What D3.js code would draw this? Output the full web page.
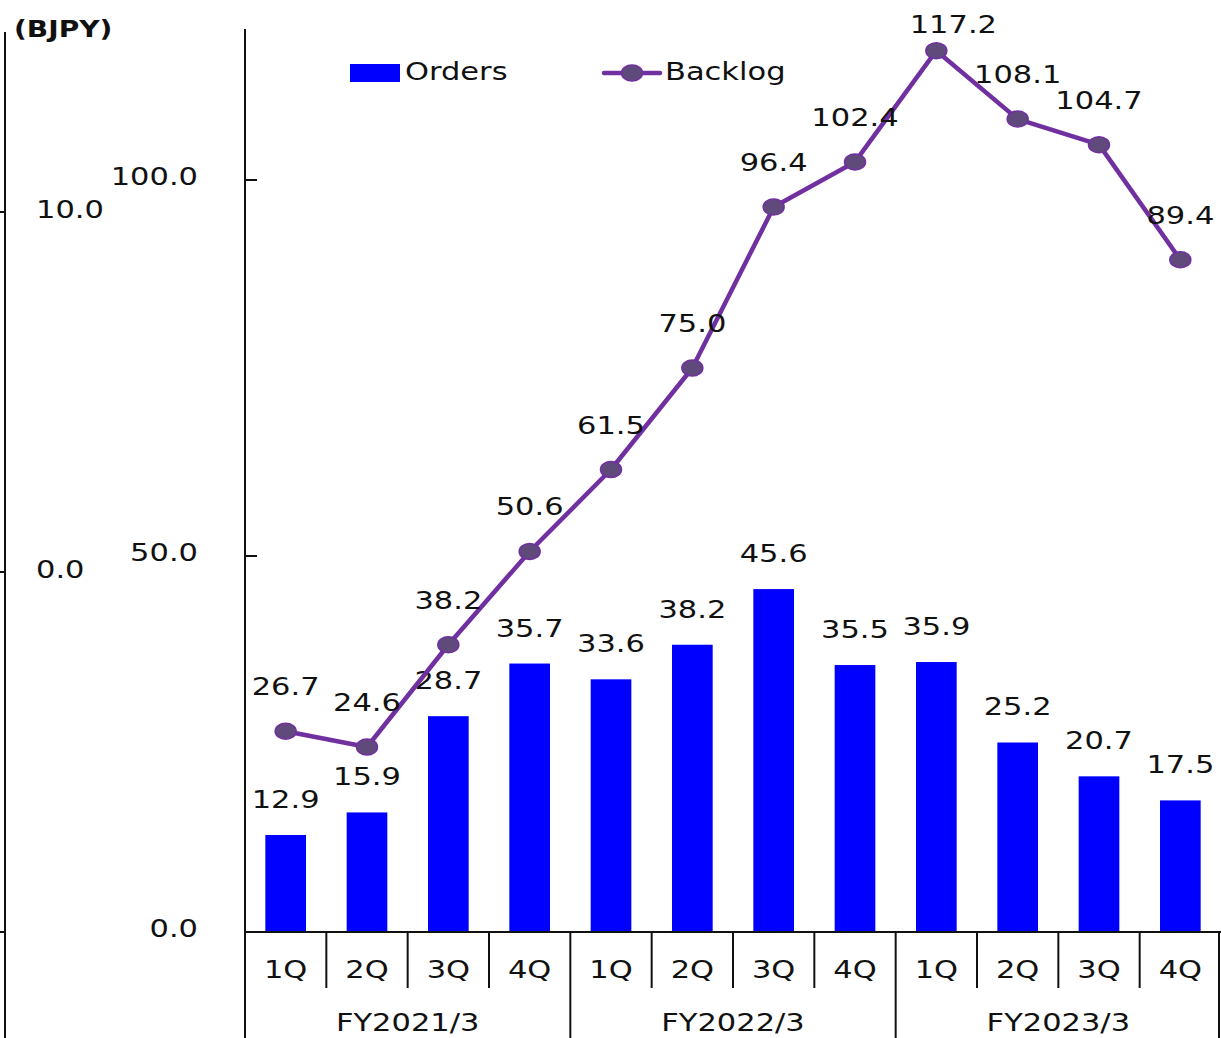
<!DOCTYPE html>
<html><head><meta charset="utf-8">
<script src="https://cdn.jsdelivr.net/npm/d3@7"></script>
<style>html,body{margin:0;padding:0;background:#fff;overflow:hidden}</style>
</head><body>
<script>
const quarters = ["1Q","2Q","3Q","4Q","1Q","2Q","3Q","4Q","1Q","2Q","3Q","4Q"];
const fiscalYears = ["FY2021/3","FY2022/3","FY2023/3"];
const orders = [12.9,15.9,28.7,35.7,33.6,38.2,45.6,35.5,35.9,25.2,20.7,17.5];
const backlog = [26.7,24.6,38.2,50.6,61.5,75.0,96.4,102.4,117.2,108.1,104.7,89.4];
const mainTicks = [0,50,100];
const leftTicks = [-10,0,10];
const leftTickLabels = ["","0.0","10.0"];

const W=1221,H=1038, SX=1.22, FS=25, FONT="DejaVu Sans, Verdana, sans-serif";
const svg=d3.select("body").append("svg").attr("width",W).attr("height",H);

const x=d3.scaleBand().domain(d3.range(12)).range([245,1221]).paddingInner(0).paddingOuter(0);
const y=d3.scaleLinear().domain([0,100]).range([932,180]);
const yL=d3.scaleLinear().domain([-10,10]).range([932,212]);

function txt(xp,yp,s,anchor,opts={}){
  return svg.append("text").attr("transform",`translate(${xp},${yp}) scale(${SX},1)`)
    .attr("text-anchor",anchor||"middle").attr("font-family",FONT)
    .attr("font-size",opts.size||FS).attr("font-weight",opts.weight||"normal")
    .attr("fill","#111").text(s);
}

// left secondary axis
svg.append("line").attr("x1",5).attr("x2",5).attr("y1",32).attr("y2",H).attr("stroke","#111").attr("stroke-width",2);
leftTicks.forEach((t,i)=>{
  svg.append("line").attr("x1",0).attr("x2",5).attr("y1",yL(t)).attr("y2",yL(t)).attr("stroke","#111").attr("stroke-width",2);
  if(leftTickLabels[i]) txt(36,yL(t)+6,leftTickLabels[i],"start");
});

// main axis
svg.append("line").attr("x1",245).attr("x2",245).attr("y1",29).attr("y2",H).attr("stroke","#111").attr("stroke-width",2);
mainTicks.forEach(t=>{
  svg.append("line").attr("x1",245).attr("x2",257).attr("y1",y(t)).attr("y2",y(t)).attr("stroke","#111").attr("stroke-width",2);
  txt(198,y(t)+5,d3.format(".1f")(t),"end");
});

txt(14,37,"(BJPY)","start",{size:23,weight:"bold"});

// bars
const bw=x.bandwidth()*0.5;
svg.selectAll("rect.bar").data(orders).join("rect").attr("class","bar")
  .attr("x",(d,i)=>x(i)+x.bandwidth()/2-bw/2).attr("width",bw)
  .attr("y",d=>y(d)).attr("height",d=>y(0)-y(d)).attr("fill","#0000FF");
orders.forEach((d,i)=>txt(x(i)+x.bandwidth()/2,y(d)-27,d.toFixed(1),"middle"));

// baseline and category axis
svg.append("line").attr("x1",245).attr("x2",1221).attr("y1",932).attr("y2",932).attr("stroke","#111").attr("stroke-width",2);
for(let i=0;i<=12;i++){
  const xp = i===12?1219:x(i);
  const long = i%4===0;
  svg.append("line").attr("x1",xp).attr("x2",xp).attr("y1",932).attr("y2",long?H:988).attr("stroke","#111").attr("stroke-width",2);
}
quarters.forEach((q,i)=>txt(x(i)+x.bandwidth()/2,978,q,"middle"));
fiscalYears.forEach((f,k)=>txt(x(k*4)+x.bandwidth()*2,1031,f,"middle"));

// backlog line
const line=d3.line().x((d,i)=>x(i)+x.bandwidth()/2).y(d=>y(d));
svg.append("path").datum(backlog).attr("d",line).attr("fill","none").attr("stroke","#7030A0").attr("stroke-width",4.5).attr("stroke-linejoin","round");
svg.selectAll("ellipse.pt").data(backlog).join("ellipse").attr("class","pt")
  .attr("cx",(d,i)=>x(i)+x.bandwidth()/2).attr("cy",d=>y(d)).attr("rx",10.5).attr("ry",8)
  .attr("fill","#604A7B").attr("stroke","#7030A0").attr("stroke-width",1.5);
backlog.forEach((d,i)=>{
  let ly=y(d)-36, lx=x(i)+x.bandwidth()/2;
  if(ly<33){ ly=33; lx+=17; }
  txt(lx,ly,d.toFixed(1),"middle");
});

// legend
svg.append("rect").attr("x",350).attr("y",64).attr("width",50).attr("height",18).attr("fill","#0000FF");
txt(405,80,"Orders","start");
svg.append("line").attr("x1",604).attr("x2",660).attr("y1",73).attr("y2",73).attr("stroke","#7030A0").attr("stroke-width",4.5).attr("stroke-linecap","round");
svg.append("ellipse").attr("cx",632).attr("cy",73).attr("rx",10.5).attr("ry",8).attr("fill","#604A7B").attr("stroke","#7030A0").attr("stroke-width",1.5);
txt(665,80,"Backlog","start");
</script>
</body></html>
